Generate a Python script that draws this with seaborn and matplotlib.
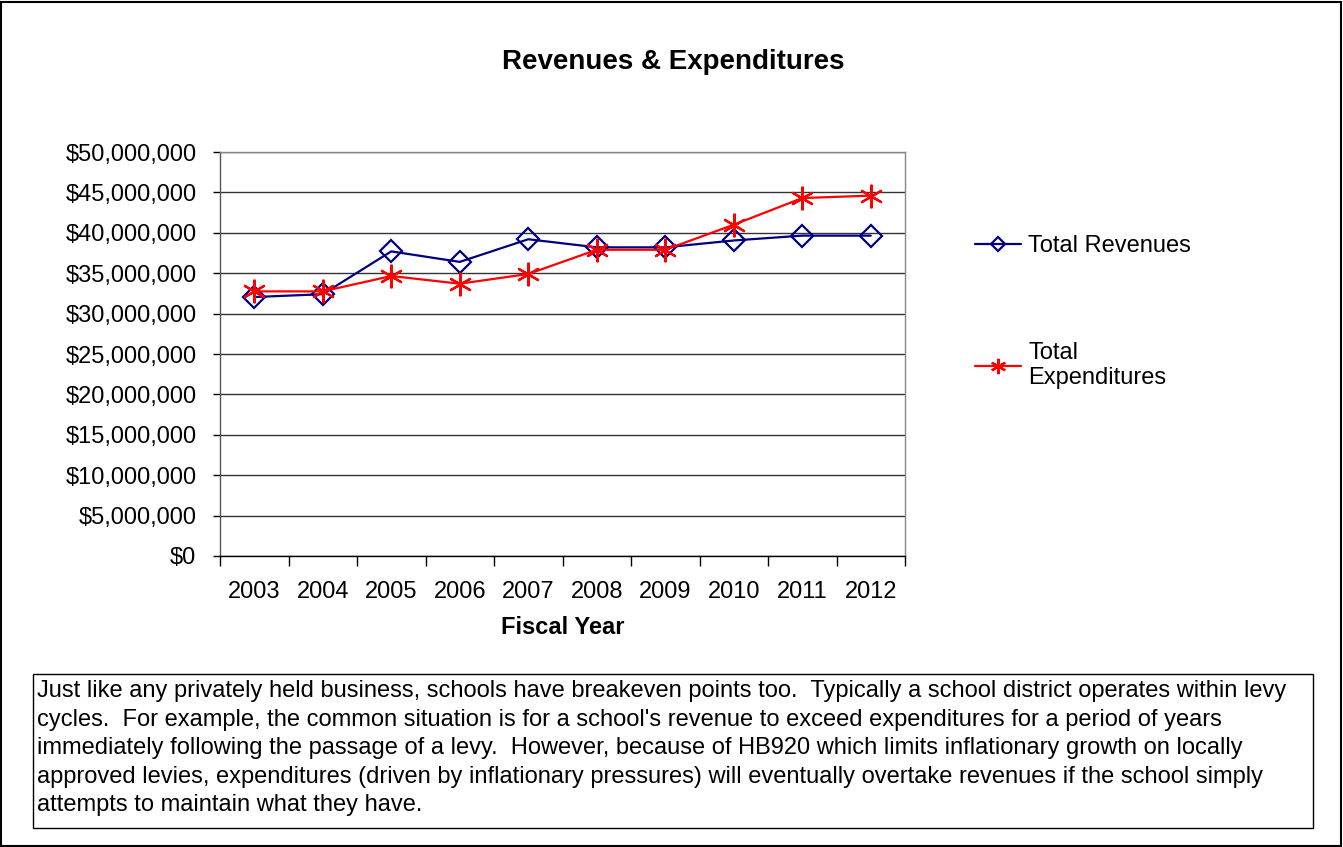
import matplotlib
matplotlib.use('Agg')
import matplotlib.pyplot as plt
import matplotlib.patches as patches
from matplotlib.ticker import FuncFormatter, MultipleLocator, FixedLocator
import pandas as pd
import seaborn as sns

# data (millions of dollars)
years = ['2003', '2004', '2005', '2006', '2007', '2008', '2009', '2010', '2011', '2012']
revenues = [32.05, 32.4, 37.7, 36.4, 39.2, 38.2, 38.2, 39.05, 39.65, 39.65]
expenditures = [32.75, 32.75, 34.65, 33.7, 34.9, 37.9, 37.9, 41.0, 44.3, 44.6]

note_lines = [
    "Just like any privately held business, schools have breakeven points too.  Typically a school district operates within levy",
    "cycles.  For example, the common situation is for a school's revenue to exceed expenditures for a period of years",
    "immediately following the passage of a levy.  However, because of HB920 which limits inflationary growth on locally",
    "approved levies, expenditures (driven by inflationary pressures) will eventually overtake revenues if the school simply",
    "attempts to maintain what they have.",
]

df = pd.DataFrame({'year': years,
                   'rev': [v * 1e6 for v in revenues],
                   'exp': [v * 1e6 for v in expenditures]})

sns.set_theme(style='white')
plt.rcParams['font.family'] = ['Liberation Sans', 'DejaVu Sans']
plt.rcParams['text.color'] = 'black'
plt.rcParams['xtick.color'] = 'black'
plt.rcParams['ytick.color'] = 'black'
plt.rcParams['axes.labelcolor'] = 'black'

W, H = 1343, 847
fig = plt.figure(figsize=(W / 100, H / 100), dpi=100)
ax = fig.add_axes([220 / W, 1 - 556 / H, 685 / W, 404 / H])

sns.lineplot(data=df, x='year', y='rev', ax=ax, color='#000080', lw=1.6,
             marker='D', markersize=11, markerfacecolor='none',
             markeredgecolor='#000080', markeredgewidth=1.6, label='Total Revenues')
sns.lineplot(data=df, x='year', y='exp', ax=ax, color='#ff0000', lw=1.6,
             marker=(6, 2, 0), markersize=17, markeredgecolor='#ff0000',
             markeredgewidth=1.6, label='Total\nExpenditures')

ax.set_xlim(-0.5, len(years) - 0.5)
ax.set_ylim(0, 50e6)
ax.yaxis.set_major_locator(MultipleLocator(5e6))
ax.yaxis.set_major_formatter(FuncFormatter(lambda v, p: f'${v:,.0f}'))
ax.grid(axis='y', color='#333333', lw=1)
ax.set_axisbelow(True)

# category ticks between years
ax.xaxis.set_minor_locator(FixedLocator([i - 0.5 for i in range(len(years) + 1)]))
ax.tick_params(axis='x', which='major', length=0, pad=18, labelsize=17)
ax.tick_params(axis='x', which='minor', length=7, width=1, color='black', direction='out', bottom=True)
ax.tick_params(axis='y', which='major', length=5, width=1, color='black', direction='out',
               left=True, pad=12, labelsize=17)

for s in ['top', 'right']:
    ax.spines[s].set_color('#888888')
ax.spines['left'].set_color('#555555')
ax.spines['bottom'].set_color('black')
for s in ax.spines.values():
    s.set_linewidth(1)

ax.set_xlabel('Fiscal Year', fontsize=17, fontweight='bold', labelpad=9)
ax.set_ylabel('')

fig.text(673 / W, 1 - 62 / H, 'Revenues & Expenditures', ha='center', va='center',
         fontsize=20, fontweight='bold')

ax.legend(loc='upper left', bbox_to_anchor=(975 / W, 1 - 235 / H), bbox_transform=fig.transFigure,
          frameon=False, fontsize=17, handlelength=1.95, handletextpad=0.3,
          labelspacing=3.6, borderpad=0, borderaxespad=0, markerscale=0.65)

# note box
fig.patches.append(patches.Rectangle((33 / W, 1 - 828 / H), 1280 / W, 154 / H,
                                     transform=fig.transFigure, fill=False,
                                     edgecolor='black', lw=1))
for i, line in enumerate(note_lines):
    fig.text(37 / W, 1 - (691 + i * 28.6) / H, line, ha='left', va='center', fontsize=17)

# outer frame
fig.patches.append(patches.Rectangle((1 / W, 1 / H), (W - 3) / W, (H - 3) / H,
                                     transform=fig.transFigure, fill=False,
                                     edgecolor='black', lw=1.5))

fig.savefig('out.png', dpi=100)
